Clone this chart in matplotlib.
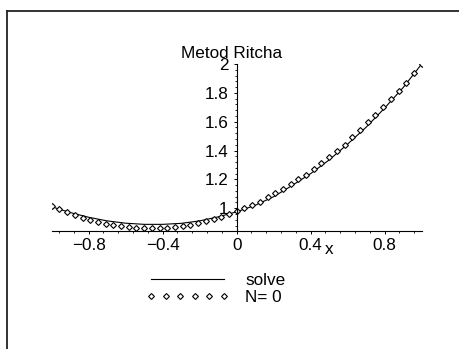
import matplotlib
matplotlib.use("Agg")
import matplotlib.pyplot as plt
from matplotlib.ticker import MultipleLocator
from matplotlib.lines import Line2D

plt.rcParams['font.family'] = ['Liberation Sans', 'DejaVu Sans']

# exact solution ("solve"), read at step 0.1
solve_x = [-1.0, -0.9, -0.8, -0.7, -0.6, -0.5, -0.4, -0.3, -0.2, -0.1, 0.0,
           0.1, 0.2, 0.3, 0.4, 0.5, 0.6, 0.7, 0.8, 0.9, 1.0]
solve_y = [1.01, 0.97, 0.937, 0.912, 0.896, 0.888, 0.888, 0.895, 0.912, 0.94, 0.975,
           1.02, 1.08, 1.158, 1.24, 1.335, 1.445, 1.562, 1.695, 1.837, 2.0]

# Ritz approximation N=0, 49 points
n0_x = [-1 + k / 24 for k in range(49)]
n0_y = [1.012, 0.992, 0.974, 0.953, 0.934, 0.918, 0.907, 0.893, 0.883, 0.874,
        0.867, 0.863, 0.861, 0.861, 0.861, 0.865, 0.870, 0.879, 0.886, 0.900,
        0.912, 0.926, 0.939, 0.957, 0.978, 1.001, 1.022, 1.045, 1.075, 1.103,
        1.131, 1.166, 1.200, 1.233, 1.270, 1.311, 1.355, 1.394, 1.441, 1.491,
        1.540, 1.595, 1.646, 1.699, 1.755, 1.815, 1.871, 1.935, 2.000]

xticks = [-0.8, -0.4, 0, 0.4, 0.8]
xticklabels = ['\u22120.8', '\u22120.4', '0', '0.4', '0.8']
yticks = [1.0, 1.2, 1.4, 1.6, 1.8, 2.0]
yticklabels = ['1', '1.2', '1.4', '1.6', '1.8', '2']

W, H = 460, 349
fig = plt.figure(figsize=(W / 100, H / 100), dpi=100)
fig.patch.set_facecolor('white')

ax = fig.add_axes([51.7 / W, (H - 230.7) / H, 370 / W, 166.7 / H])
ax.set_facecolor('none')

l1, = ax.plot(solve_x, solve_y, color='black', lw=0.8)
l2, = ax.plot(n0_x, n0_y, linestyle='none', marker='D', ms=3.0,
              mfc='white', mec='black', mew=0.8)

ax.set_xlim(-1, 1)
ax.set_ylim(0.844, 2.0)
for s in ['top', 'right']:
    ax.spines[s].set_visible(False)
ax.spines['left'].set_position(('data', 0))
ax.spines['left'].set_linewidth(0.8)
ax.spines['bottom'].set_linewidth(0.8)

ax.set_xticks(xticks)
ax.set_xticklabels(xticklabels)
ax.set_yticks(yticks)
ax.set_yticklabels(yticklabels)
ax.xaxis.set_minor_locator(MultipleLocator(0.08))
ax.yaxis.set_minor_locator(MultipleLocator(0.04))
ax.tick_params(axis='both', which='major', length=2.5, width=0.7, labelsize=12.3)
ax.tick_params(axis='both', which='minor', length=1.6, width=0.6)
ax.tick_params(axis='x', which='major', pad=3)
ax.tick_params(axis='y', which='major', pad=3.5)

fig.text(232 / W, 1 - 53 / H, 'Metod Ritcha', ha='center', va='center', fontsize=12.3)
fig.text(329 / W, 1 - 250 / H, 'x', ha='center', va='center', fontsize=12.3)

leg = fig.legend([l1, l2], ['solve', 'N= 0'], loc='upper left',
                 bbox_to_anchor=(146 / W, 1 - 273 / H), frameon=False,
                 fontsize=12.3, handlelength=4.85, handletextpad=0.95,
                 numpoints=6, labelspacing=0.12, borderpad=0, borderaxespad=0)

# outer frame
fig.add_artist(Line2D([7.5 / W, 7.5 / W], [0, 1 - 10.5 / H], transform=fig.transFigure,
                      color='#222222', lw=1.3))
fig.add_artist(Line2D([7.5 / W, 1], [1 - 10.5 / H, 1 - 10.5 / H], transform=fig.transFigure,
                      color='#222222', lw=1.3))

fig.savefig('out.png', dpi=100, facecolor='white')
